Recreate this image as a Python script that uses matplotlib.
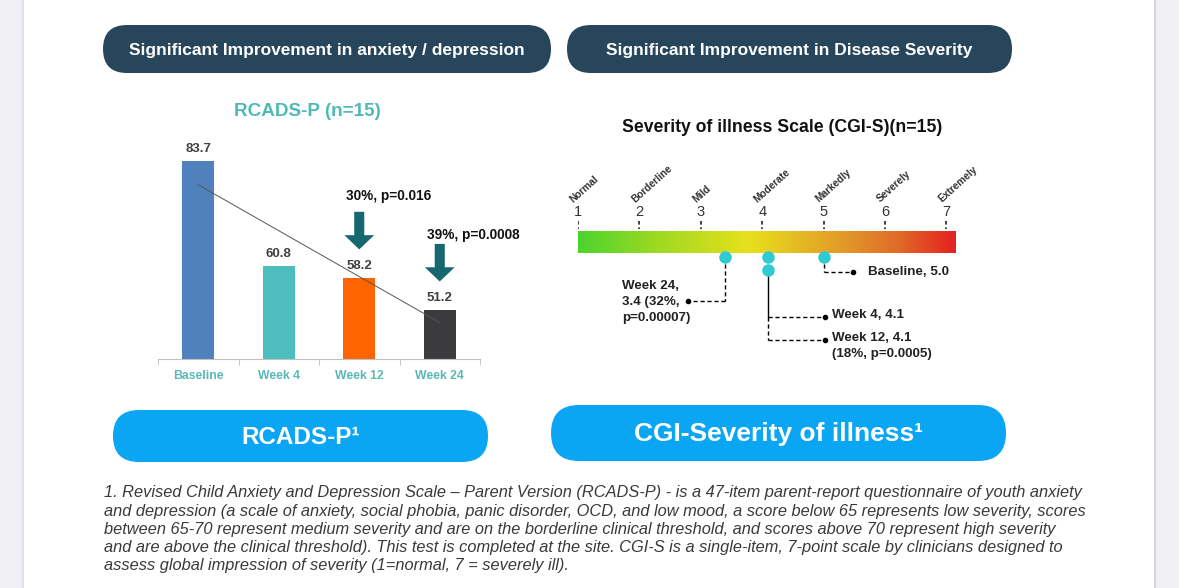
import numpy as np
import matplotlib.pyplot as plt
from matplotlib.patches import FancyBboxPatch, Rectangle, FancyArrow
from matplotlib.colors import LinearSegmentedColormap

plt.rcParams['font.family'] = ['Liberation Sans', 'DejaVu Sans']

# RCADS-P scores per visit
visits = ['Baseline', 'Week 4', 'Week 12', 'Week 24']
rcads = [83.7, 60.8, 58.2, 51.2]
bar_colors = ['#4f81bd', '#4dbdbe', '#fe6500', '#3b3b3d']
change_visits = ['Week 12', 'Week 24']
change_labels = ['30%, p=0.016', '39%, p=0.0008']

# CGI-S scale and scores
sev_scores = [1, 2, 3, 4, 5, 6, 7]
sev_names = ['Normal', 'Borderline', 'Mild', 'Moderate', 'Markedly', 'Severely', 'Extremely']
cgi_visits = ['Baseline', 'Week 4', 'Week 12', 'Week 24']
cgi_scores = [5.0, 4.1, 4.1, 3.4]
cgi_labels = ['Baseline, 5.0', 'Week 4, 4.1', 'Week 12, 4.1\n(18%, p=0.0005)',
              'Week 24,\n3.4 (32%,\np=0.00007)']

footnote = [
    "1. Revised Child Anxiety and Depression Scale \u2013 Parent Version (RCADS-P) - is a 47-item parent-report questionnaire of youth anxiety",
    "and depression (a scale of anxiety, social phobia, panic disorder, OCD, and low mood, a score below 65 represents low severity, scores",
    "between 65-70 represent medium severity and are on the borderline clinical threshold, and scores above 70 represent high severity",
    "and are above the clinical threshold). This test is completed at the site. CGI-S is a single-item, 7-point scale by clinicians designed to",
    "assess global impression of severity (1=normal, 7 = severely ill).",
]

W, H = 1179, 588
fig = plt.figure(figsize=(W / 100, H / 100), dpi=100)
bg = fig.add_axes([0, 0, 1, 1])
bg.set_xlim(0, W)
bg.set_ylim(H, 0)
bg.axis('off')


def px_axes(x0, y0, x1, y1):
    a = fig.add_axes([x0 / W, 1 - y1 / H, (x1 - x0) / W, (y1 - y0) / H])
    a.set_facecolor('none')
    return a


def pill(x0, y0, x1, y1, color, text, size):
    h = y1 - y0
    bg.add_patch(FancyBboxPatch((x0, y0), x1 - x0, h,
                                boxstyle='round,pad=0,rounding_size=%g' % (h / 2),
                                fc=color, ec='none'))
    bg.text((x0 + x1) / 2, (y0 + y1) / 2 + 1.5, text, color='white', fontsize=size,
            fontweight='bold', ha='center', va='center')


# page edges
bg.add_patch(Rectangle((0, 0), 23, H, color='#efeff4', lw=0))
bg.plot([23, 23], [0, H], color='#dcdce2', lw=1.2)
bg.add_patch(Rectangle((1154, 0), 25, H, color='#efeff4', lw=0))
bg.plot([1154.5, 1154.5], [0, H], color='#d6d6dc', lw=1.5)

pill(103, 25, 551, 73, '#27455b', 'Significant Improvement in anxiety / depression', 12.5)
pill(567, 25, 1012, 73, '#27455b', 'Significant Improvement in Disease Severity', 12.5)
pill(113, 410, 488, 462, '#0aa6f4', 'RCADS-P\u00b9', 17.5)
pill(551, 405, 1006, 461, '#0aa6f4', 'CGI-Severity of illness\u00b9', 19)

bg.text(307, 112, 'RCADS-P (n=15)', color='#4fb9b7', fontsize=13.6, fontweight='bold',
        ha='center', va='center')
bg.text(782, 128, 'Severity of illness Scale (CGI-S)(n=15)', color='#111111',
        fontsize=12.7, fontweight='bold', ha='center', va='center')

for i, line in enumerate(footnote):
    bg.text(104, 493 + i * 18.2, line, fontsize=11.8, style='italic', color='#3a3a3a',
            ha='left', va='center')

# ---- RCADS-P bar chart ----
ax = px_axes(158, 132, 480, 359)
x = np.arange(len(visits))
ax.bar(x, rcads, width=0.4, color=bar_colors)
ax.set_xlim(-0.5, 3.5)
ax.set_ylim(40.5, 90)
for s in ['top', 'right', 'left']:
    ax.spines[s].set_visible(False)
ax.spines['bottom'].set_color('#c0c0c0')
ax.set_yticks([])
ax.set_xticks(x, visits)
ax.set_xticks(np.arange(-0.5, 4, 1), minor=True)
ax.tick_params(axis='x', which='major', length=0, pad=8, labelsize=8.8, labelcolor='#5ab9b6')
ax.tick_params(axis='x', which='minor', length=4, color='#c0c0c0')
for t in ax.get_xticklabels():
    t.set_fontweight('bold')

for i, v in enumerate(rcads):
    ax.annotate('%.1f' % v, (i, v), xytext=(0, 4), textcoords='offset points',
                ha='center', va='bottom', fontsize=9.5, fontweight='bold', color='#404040')

coef = np.polyfit(x, rcads, 1)
ax.plot(x, np.polyval(coef, x), color='#555555', lw=0.7)

for name, lab, gap in zip(change_visits, change_labels, [3.4, 2.0]):
    i = visits.index(name)
    tip = rcads[i] + 6.2
    top = tip + 8.2
    ax.add_patch(FancyArrow(i, top, 0, tip - top, width=0.125, head_width=0.37,
                            head_length=3.1, length_includes_head=True,
                            color='#17676f', lw=0))
    ax.text(i - 0.16, top + gap, lab, ha='left', va='center', fontsize=9.8,
            fontweight='bold', color='#111111')

# ---- CGI-S scale ----
cx = px_axes(578, 150, 955, 380)
ppu = (955 - 578) / 6.14  # pixels per score unit
cmap = LinearSegmentedColormap.from_list('sev', [(0, '#4cd42e'), (0.2, '#9ad922'),
                                                 (0.45, '#e8e01c'), (0.7, '#e29a2a'),
                                                 (0.85, '#e06a28'), (1, '#e52222')])
cx.imshow(np.linspace(0, 1, 256).reshape(1, -1), extent=(1, 7.14, 253, 231),
          aspect='auto', cmap=cmap, interpolation='bicubic')
cx.set_xlim(1, 7.14)
cx.set_ylim(380, 150)
cx.axis('off')

for s, name in zip(sev_scores, sev_names):
    cx.text(s, 212, str(s), ha='center', va='center', fontsize=10.5, color='#333333')
    cx.plot([s, s], [221, 229], color='#333333', lw=1.3, ls=(0, (2, 1.5)))
    cx.text(s - 0.05, 204, name, rotation=42, rotation_mode='anchor', ha='left',
            va='bottom', fontsize=7.3, fontweight='bold', color='#333333')

# dots stacked when scores coincide
dot_y = {}
for v, sc in zip(cgi_visits, cgi_scores):
    n = sum(1 for k in dot_y if cgi_scores[cgi_visits.index(k)] == sc)
    dot_y[v] = 257 + 12.5 * n
    cx.plot(sc, dot_y[v], 'o', color='#2fcbd3', ms=8, zorder=5, clip_on=False)

dash = (0, (3, 2))
txt = dict(fontsize=9.6, fontweight='bold', color='#222222', linespacing=1.4)

# Baseline
sc = cgi_scores[0]
cx.plot([sc, sc], [dot_y['Baseline'], 272], color='k', lw=1, ls=dash)
cx.plot([sc, sc + 29 / ppu], [272, 272], color='k', lw=1, ls=dash)
cx.plot(sc + 29 / ppu, 272, 'o', color='k', ms=3)
cx.text(sc + 44 / ppu, 272, cgi_labels[0], ha='left', va='center', **txt)

# Week 4 / Week 12
sc = cgi_scores[1]
cx.plot([sc, sc], [dot_y['Week 12'], 317], color='k', lw=1)
cx.plot([sc, sc], [317, 340], color='k', lw=1, ls=dash)
for yy, lab in [(317, cgi_labels[1]), (340, cgi_labels[2])]:
    cx.plot([sc, sc + 57 / ppu], [yy, yy], color='k', lw=1, ls=dash)
    cx.plot(sc + 57 / ppu, yy, 'o', color='k', ms=3)
    cx.text(sc + 64 / ppu, yy - 8, lab, ha='left', va='top', **txt)

# Week 24
sc = cgi_scores[3]
cx.plot([sc, sc], [dot_y['Week 24'], 301], color='k', lw=1, ls=dash)
cx.plot([sc, sc - 37 / ppu], [301, 301], color='k', lw=1, ls=dash)
cx.plot(sc - 37 / ppu, 301, 'o', color='k', ms=3)
cx.text(sc - 103 / ppu, 302, cgi_labels[3], ha='left', va='center', **txt)

fig.savefig('out.png', dpi=100)
